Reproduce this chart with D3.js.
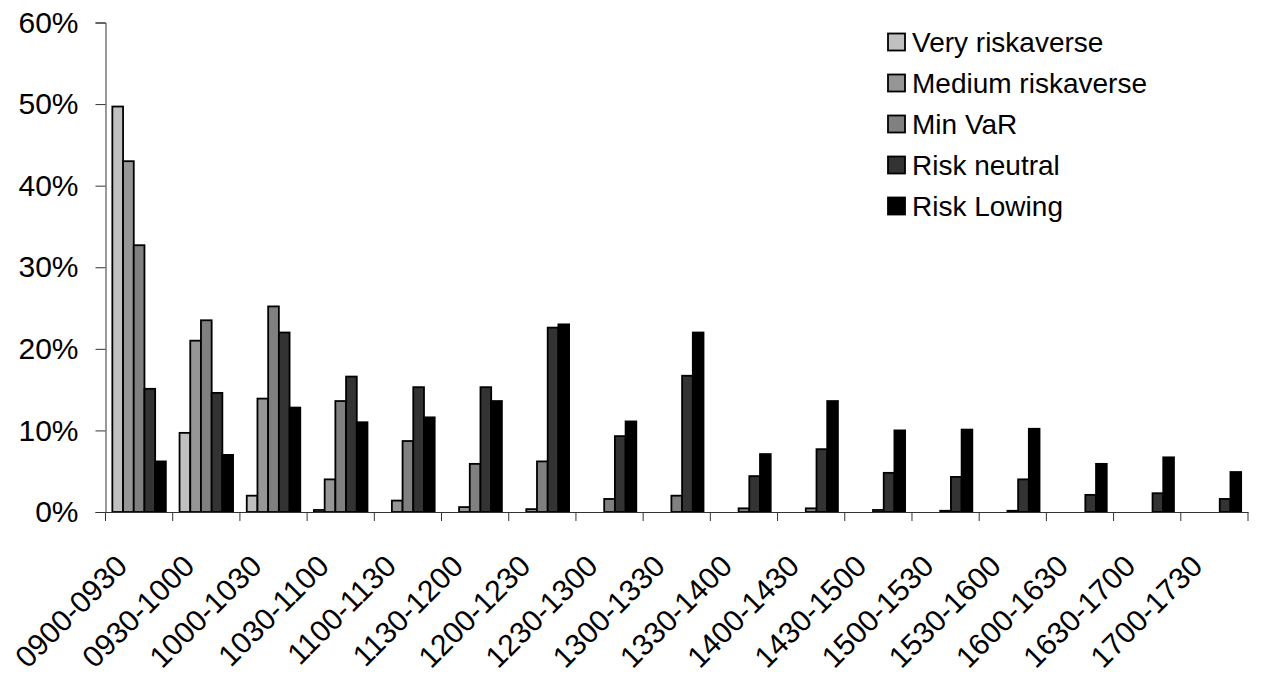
<!DOCTYPE html>
<html>
<head>
    <meta charset="utf-8">
    <title>Time window distribution</title>
    <style>
        body { margin: 0; background: #fff; }
    </style>
</head>
<body>
    <script src="https://cdnjs.cloudflare.com/ajax/libs/d3/7.9.0/d3.min.js"></script>
    <script>

        const categories = ["0900-0930", "0930-1000", "1000-1030", "1030-1100", "1100-1130", "1130-1200",
            "1200-1230", "1230-1300", "1300-1330", "1330-1400", "1400-1430", "1430-1500",
            "1500-1530", "1530-1600", "1600-1630", "1630-1700", "1700-1730"];

        const seriesNames = ["Very riskaverse", "Medium riskaverse", "Min VaR", "Risk neutral", "Risk Lowing"];
        const seriesColors = ["#c0c0c0", "#969696", "#808080", "#333333", "#000000"];

        // percentages
        const veryRiskaverse   = [49.7, 9.7, 2.0, 0.25, 0, 0, 0, 0, 0, 0, 0, 0, 0, 0, 0, 0, 0];
        const mediumRiskaverse = [43.0, 21.0, 13.9, 4.0, 1.4, 0.6, 0.35, 0, 0, 0, 0, 0, 0, 0, 0, 0, 0];
        const minVaR           = [32.7, 23.5, 25.2, 13.6, 8.7, 5.9, 6.2, 1.6, 2.0, 0.45, 0.45, 0.25, 0.15, 0.15, 0, 0, 0];
        const riskNeutral      = [15.1, 14.6, 22.0, 16.6, 15.3, 15.3, 22.6, 9.3, 16.7, 4.4, 7.7, 4.8, 4.3, 4.0, 2.1, 2.3, 1.6];
        const riskLowing       = [6.2, 7.0, 12.8, 11.0, 11.6, 13.6, 23.0, 11.1, 22.0, 7.1, 13.6, 10.0, 10.1, 10.2, 5.9, 6.7, 4.9];

        const yTicks = [0, 10, 20, 30, 40, 50, 60];

        const seriesValues = [veryRiskaverse, mediumRiskaverse, minVaR, riskNeutral, riskLowing];

        const width = 1261;
        const height = 675;
        const margin = {top: 22.5, right: 13, bottom: 163, left: 105.5};
        const font = "'Liberation Sans', Arial, sans-serif";

        const svg = d3.select("body")
            .append("svg")
            .attr("width", width)
            .attr("height", height)
            .style("font-family", font);

        svg.append("rect")
            .attr("width", width)
            .attr("height", height)
            .attr("fill", "#fff");

        const x = d3.scaleBand()
            .domain(categories)
            .range([margin.left, width - margin.right])
            .padding(0);

        const x1 = d3.scaleBand()
            .domain(seriesNames)
            .range([0, x.bandwidth()])
            .paddingInner(0)
            .paddingOuter(0.64);

        const y = d3.scaleLinear()
            .domain([0, 60])
            .range([height - margin.bottom, margin.top]);

        const rows = categories.map((c, i) => ({
            cat: c,
            vals: seriesNames.map((s, j) => ({name: s, color: seriesColors[j], value: seriesValues[j][i]}))
        }));

        // bars
        const groups = svg.append("g")
            .selectAll("g")
            .data(rows)
            .join("g")
            .attr("transform", d => `translate(${x(d.cat)},0)`);

        groups.selectAll("rect")
            .data(d => d.vals)
            .join("rect")
            .attr("x", d => x1(d.name))
            .attr("y", d => y(d.value))
            .attr("width", x1.bandwidth())
            .attr("height", d => y(0) - y(d.value))
            .attr("fill", d => d.color)
            .attr("stroke", "#000")
            .attr("stroke-width", 1.8);

        // y axis
        const yAxis = svg.append("g")
            .attr("transform", `translate(${margin.left},0)`)
            .call(d3.axisLeft(y).tickValues(yTicks).tickSize(10).tickPadding(17).tickFormat(d => d + "%"));
        yAxis.selectAll("text")
            .attr("font-size", "30px")
            .attr("font-family", font)
            .attr("fill", "#000");
        yAxis.selectAll("line, path").attr("stroke", "#333");

        // x axis: labels on category centres, ticks on boundaries
        const xAxis = svg.append("g")
            .attr("transform", `translate(0,${y(0)})`)
            .call(d3.axisBottom(x).tickSize(0).tickSizeOuter(0));
        xAxis.select(".domain").attr("stroke", "#333");
        xAxis.selectAll("text")
            .attr("font-size", "30px")
            .attr("font-family", font)
            .attr("fill", "#000")
            .attr("text-anchor", "end")
            .attr("y", 0)
            .attr("dy", 0)
            .attr("transform", "translate(-10,56) rotate(-45)");

        const bounds = categories.map(c => x(c)).concat([x.range()[1]]);
        xAxis.selectAll(".bound")
            .data(bounds)
            .join("line")
            .attr("class", "bound")
            .attr("x1", d => d)
            .attr("x2", d => d)
            .attr("y1", 0)
            .attr("y2", 9)
            .attr("stroke", "#333");

        // legend
        const legend = svg.append("g")
            .attr("transform", "translate(888,42)");

        const item = legend.selectAll("g")
            .data(seriesNames)
            .join("g")
            .attr("transform", (d, i) => `translate(0,${i * 41})`);

        item.append("rect")
            .attr("x", 0)
            .attr("y", -8.5)
            .attr("width", 17)
            .attr("height", 17)
            .attr("fill", (d, i) => seriesColors[i])
            .attr("stroke", "#000")
            .attr("stroke-width", 1.8);

        item.append("text")
            .attr("x", 24)
            .attr("y", 0)
            .attr("dy", "0.35em")
            .attr("font-size", "28px")
            .text(d => d);

    </script>
</body>
</html>
